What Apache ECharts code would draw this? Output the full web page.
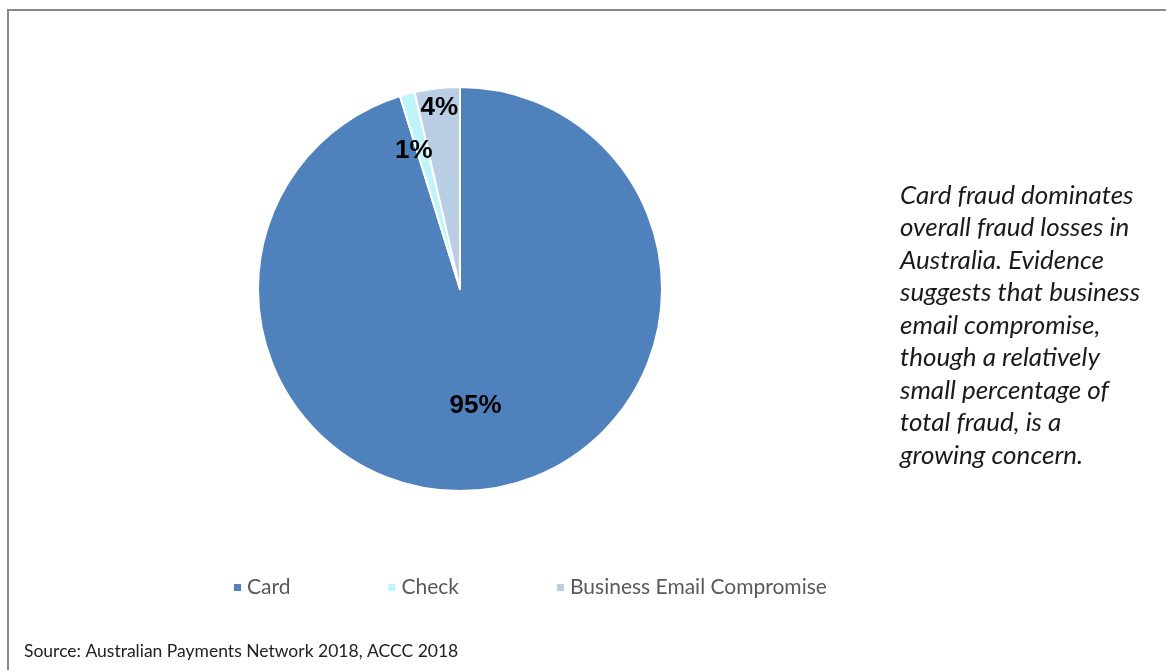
<!DOCTYPE html>
<html>
<head>
<meta charset="utf-8">
<script src="https://cdn.jsdelivr.net/npm/echarts@6/dist/echarts.min.js"></script>
<style>
  html, body { margin: 0; padding: 0; background: #fff; }
  #chart { width: 1166px; height: 670px; }
</style>
</head>
<body>
<div id="chart"></div>
<script>
const categories = ['Card', 'Check', 'Business Email Compromise']
const shares = [95.2, 1.2, 3.6]
const colors = ['#4f81bd', '#bff5fa', '#b9cde5']
// Excel-style label nudges (best fit)
const labelOffsets = [[0, 14], [-19, -38], [-9, -78]]
const noteLines = [
  'Card fraud dominates',
  'overall fraud losses in',
  'Australia. Evidence',
  'suggests that business',
  'email compromise,',
  'though a relatively',
  'small percentage of',
  'total fraud, is a',
  'growing concern.'
]
const sourceText = 'Source: Australian Payments Network 2018, ACCC 2018'

const chart = echarts.init(document.getElementById('chart'))

const option = {
  animation: false,
  backgroundColor: '#fff',
  color: colors,
  legend: {
    data: categories,
    left: 227,
    top: 572,
    icon: 'rect',
    itemWidth: 9,
    itemHeight: 9,
    itemGap: 96,
    textStyle: {
      fontFamily: 'Lato',
      fontSize: 21,
      color: '#595959'
    }
  },
  graphic: [
    {
      type: 'polyline',
      shape: { points: [[8, 670], [8, 10], [1166, 10]] },
      style: { stroke: '#888', lineWidth: 2, fill: null }
    },
    {
      type: 'text',
      left: 900,
      top: 179,
      style: {
        text: noteLines.join('\n'),
        fontFamily: 'Lato',
        fontStyle: 'italic',
        fontSize: 26,
        lineHeight: 32.5,
        fill: '#1a1a1a'
      }
    },
    {
      type: 'text',
      left: 24,
      top: 642,
      style: {
        text: sourceText,
        fontFamily: 'Lato',
        fontSize: 17.5,
        fill: '#222'
      }
    }
  ],
  series: [
    {
      type: 'pie',
      center: [460, 289],
      radius: 202,
      startAngle: 90,
      clockwise: true,
      percentPrecision: 0,
      itemStyle: { borderColor: '#fff', borderWidth: 2 },
      label: {
        position: 'inside',
        formatter: '{d}%',
        fontFamily: 'Liberation Sans',
        fontWeight: 'bold',
        fontSize: 26,
        color: '#000'
      },
      labelLine: { show: false },
      data: categories.map((name, i) => ({
        name: name,
        value: shares[i],
        label: { offset: labelOffsets[i] }
      }))
    }
  ]
}

chart.setOption(option)
</script>
</body>
</html>
